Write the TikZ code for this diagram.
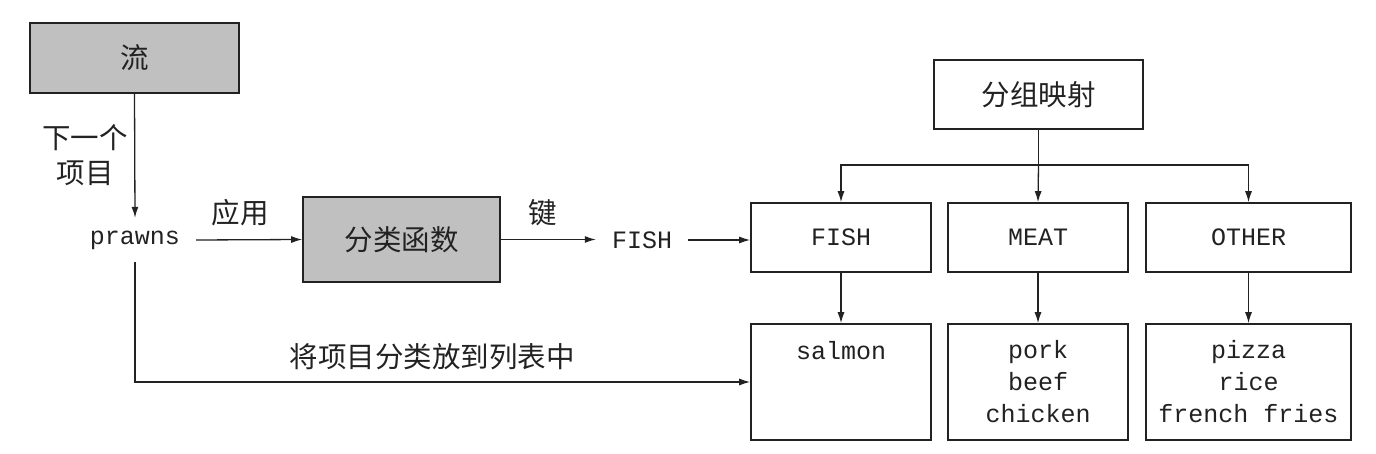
\documentclass[tikz,border=0pt]{standalone}
\usepackage{fontspec}
\setmonofont{Liberation Mono}
\newfontfamily\cjk{Noto Sans CJK SC}
\usetikzlibrary{arrows.meta}
\definecolor{boxgray}{HTML}{C0C0C0}
\definecolor{ink}{HTML}{222222}
\tikzset{
  cn/.style={font=\cjk\fontsize{28.5}{35}\selectfont, text=ink, inner sep=0pt, align=center},
  mono/.style={font=\ttfamily\fontsize{25}{32}\selectfont, text=ink, align=center},
  graybox/.style={draw=ink, line width=1.6pt, fill=boxgray, inner sep=0pt},
  whitebox/.style={draw=ink, line width=1.6pt, fill=white, inner sep=0pt},
  conn/.style={draw=ink, line width=1.3pt},
  arr/.style={conn, -{Latex[length=11pt,width=7pt]}},
}
\begin{document}
\begin{tikzpicture}[x=1pt,y=-1pt]
\useasboundingbox (0,0) rectangle (1376,454);
% left part
\node[graybox, minimum width=209pt, minimum height=70pt] (liu) at (134.5,58) {};
\node[cn] at (liu.center) {流};
\node[cn] (next) at (85,155) {下一个\\项目};
\node[mono, inner xsep=16pt, inner ysep=0pt, minimum height=44pt] (prawns) at (135,240) {prawns};
\node[graybox, minimum width=197pt, minimum height=85pt] (fn) at (401.5,239.5) {};
\node[cn] at (fn.center) {分类函数};
\node[cn] (apply) at (240,213) {应用};
\node[cn] (key) at (543,213) {键};
\node[mono, inner xsep=16pt, inner ysep=0pt, minimum height=44pt] (fishkey) at (642,240) {FISH};
% right part
\node[whitebox, minimum width=209pt, minimum height=69pt] (map) at (1038.5,94.5) {};
\node[cn] at (map.center) {分组映射};
\node[whitebox, mono, minimum width=180pt, minimum height=69pt] (fish) at (841,237.5) {FISH};
\node[whitebox, mono, minimum width=180pt, minimum height=69pt] (meat) at (1038,237.5) {MEAT};
\node[whitebox, mono, minimum width=205pt, minimum height=69pt] (other) at (1248.5,237.5) {OTHER};
\node[whitebox, mono, minimum width=180pt, minimum height=116pt] (salmon) at (841,382) {salmon\\\mbox{}\\\mbox{}};
\node[whitebox, mono, minimum width=180pt, minimum height=116pt] (meatlist) at (1038,382) {pork\\beef\\chicken};
\node[whitebox, mono, minimum width=205pt, minimum height=116pt] (otherlist) at (1248.5,382) {pizza\\rice\\french fries};
\node[cn] (sortlabel) at (432,357) {将项目分类放到列表中};
\coordinate (bus) at (1038.5,165);
% connectors
\draw[arr] (liu.south) -- (prawns.north);
\draw[arr] (prawns.east) -- (fn.west);
\draw[arr] (fn.east) -- (fn.east -| fishkey.west);
\draw[arr] (fishkey.east) -- (fishkey.east -| fish.west);
\draw[conn] (map.south) -- (bus);
\draw[arr] (bus) -- (meat.north);
\draw[arr] (bus) -| (fish.north);
\draw[arr] (bus) -| (other.north);
\draw[arr] (fish.south) -- (salmon.north);
\draw[arr] (meat.south) -- (meatlist.north);
\draw[arr] (other.south) -- (otherlist.north);
\draw[arr] (prawns.south) |- (salmon.west);
\end{tikzpicture}
\end{document}
